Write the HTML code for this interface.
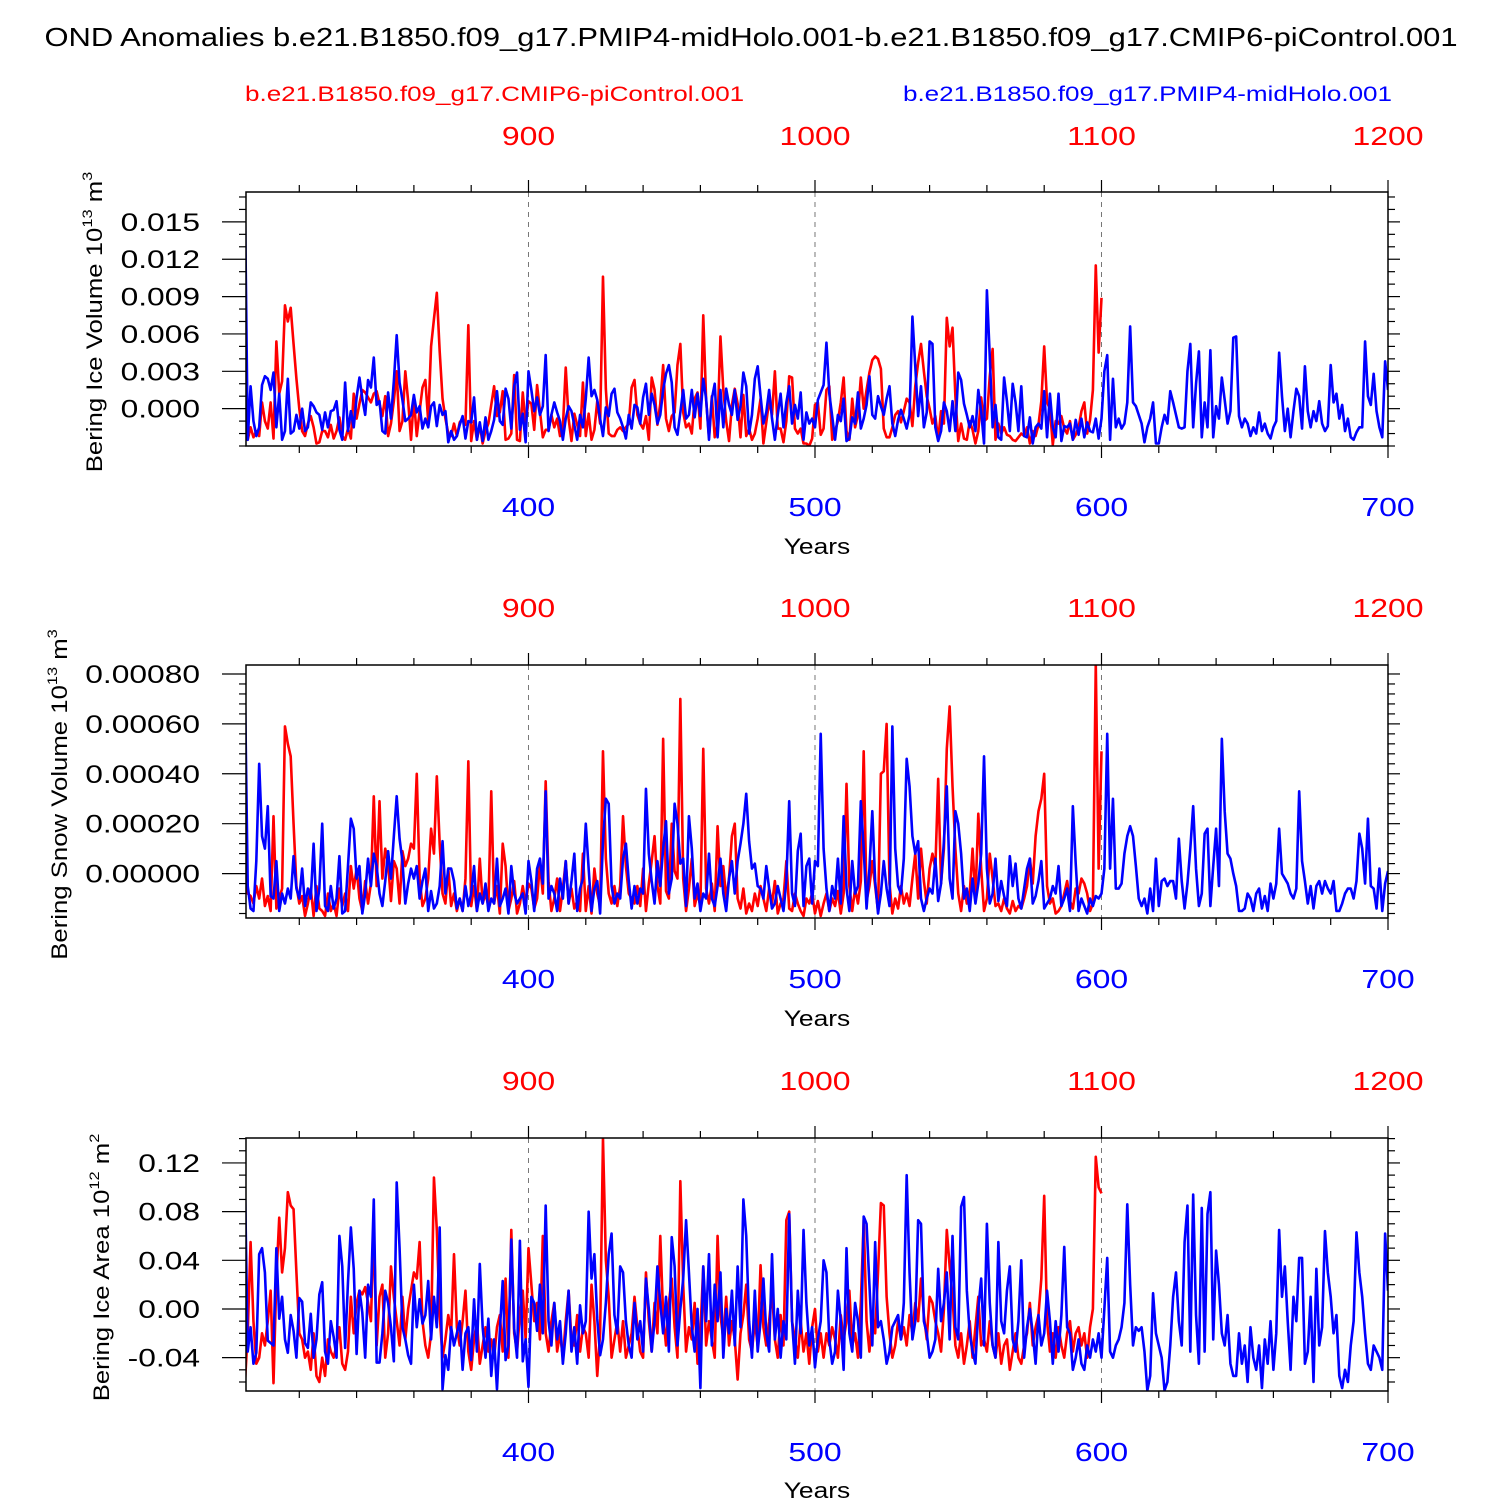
<!DOCTYPE html>
<html><head><meta charset="utf-8">
<style>
html,body{margin:0;padding:0;background:#fff;}
svg{display:block;font-family:"Liberation Sans",Arial,sans-serif;}
</style></head>
<body>
<svg id="chart" width="1500" height="1500" viewBox="0 0 1500 1500" xmlns="http://www.w3.org/2000/svg">
<rect x="0" y="0" width="1500" height="1500" fill="#fff"/>
<text transform="translate(751 46) scale(1.19 1)" font-size="26" text-anchor="middle">OND Anomalies b.e21.B1850.f09_g17.PMIP4-midHolo.001-b.e21.B1850.f09_g17.CMIP6-piControl.001</text>
<text transform="translate(245 101) scale(1.24 1)" font-size="21" fill="#ff0000">b.e21.B1850.f09_g17.CMIP6-piControl.001</text>
<text transform="translate(1392 101) scale(1.24 1)" font-size="21" fill="#0000ff" text-anchor="end">b.e21.B1850.f09_g17.PMIP4-midHolo.001</text>
</svg>
<script>
// ---- Data (blue: years 301-700, red: years 801-1100) ----
// Panel 1: ice volume, units of 1e-3 (10^13 m^3)
const iceVolBlue = [17.4,-2.5,1.8,-1,-2.2,-1.5,1.9,2.6,2.4,1.5,2.9,-1.5,1.2,-2.5,-1.8,2.4,-2,-1.8,-0.5,-1.6,
0,-1.8,-1.5,0.5,0.2,-0.3,-0.5,-1.7,-0.3,-1.5,-0.2,-0.1,0.6,-1.7,-2.5,2.1,-1.8,-0.2,-1.5,0.9,
2.5,0.8,-0.5,2.3,1.7,4.1,0.3,0.6,-1.8,-2,1.3,-0.8,2.2,5.9,2.1,0.7,-1,-0.8,-0.5,1.1,
-0.3,0.2,-1.6,-0.8,-1.5,0.2,0.5,-1.4,0.3,-0.5,-0.2,-2.7,-1.8,-2.5,-2.2,-1.3,-0.6,-2.4,-1,-1.1,
0.9,-2.5,-1.1,-2.6,-0.7,-2.5,-1.8,-0.9,1.4,-1,-1.3,1.6,0.8,-1.6,1.8,2.9,-1.7,-0.4,-2.7,3.0,
1.5,-0.2,0.9,-0.5,0.2,4.3,-1.8,-0.5,0.5,-0.3,-1,-2.5,-0.8,0.2,-0.2,-1.3,-2.5,-0.5,-1.5,0.8,
4.1,1.0,1.5,0.7,-0.8,-2.2,0.1,-0.6,1.2,1.6,-0.3,-0.8,-1.5,-2.4,-0.5,-1.6,0.3,0.1,-1.2,0.9,
2.0,-0.5,1.2,0.3,-1.2,-0.5,1.5,2.8,3.5,2.1,-1.5,-2.1,-0.3,1.5,-0.8,-0.5,1.5,-0.7,1.2,-0.6,
2.4,0.8,-2.5,0.8,2.0,-2.3,1.5,-1.5,1.6,0.3,-0.5,1.5,-0.9,0.2,2.9,1.8,-2,-0.5,2.4,3.4,
1.0,-1.2,-0.3,1.5,-0.8,-2.5,-0.5,1.2,-1.5,0.5,1.8,-1.2,0.3,-0.8,1.3,-2.5,-0.3,-1.2,-0.8,-1.5,
0.7,1.3,1.9,5.3,1.2,-0.6,-2.5,-0.5,-1,0.8,-2.6,-2.4,-0.7,-1.2,1.3,-1.6,-0.8,0.3,2.6,-0.5,
-0.8,1.0,0.2,-0.5,0.8,1.8,-1.2,-2.2,-0.9,-0.1,-0.8,-1.6,-0.5,7.4,3.4,-0.6,1.8,-1.5,-0.3,5.4,
5.2,-1.5,-2.6,-1.8,0.5,-0.2,-1.8,0.6,-1.8,2.9,2.3,0.4,-0.5,-1.5,-0.6,-1.8,1.5,-0.2,-2.8,9.5,
4.2,-1.5,0.3,-2.3,-2.5,2.5,0.6,-1.8,2.0,0.5,-1.8,1.8,-2.2,-2.3,-0.7,-2.8,-1.5,-1.2,-1.6,1.4,
-2.3,1.2,-1.5,-2.3,1.2,-2.6,-1.4,-1.5,-1.2,-2.5,-0.9,-2.1,-0.8,-2.3,-1.1,-1.8,-1.9,-0.8,-2.4,-0.8,
3.0,4.3,-2.5,2.4,-1.5,-0.8,-1.6,-1.2,0.5,6.6,0.5,0.2,-0.5,-1.2,-2.7,-1.5,-0.8,0.5,-2.8,-2.8,
-1.5,-0.5,-1.2,1.4,0.5,-0.5,-1.5,-1.6,-1.5,3.0,5.2,-1.5,2.0,4.6,-2.3,0.5,-1.5,4.7,-2.3,0.2,
-0.8,2.5,0.7,-1.2,-0.2,5.7,5.8,-0.6,-1.5,-0.8,-1.2,-2.2,-1.5,-2.0,-0.3,-1.8,-1.2,-2.0,-2.4,-1.5,
-1.0,4.5,1.0,-1.8,0.0,-2.3,-0.2,1.6,1.0,-1.6,3.4,-0.2,-1.5,-0.2,-1.0,0.6,-1.2,-1.8,-1.4,3.5,
0.5,1.2,-0.8,0.3,-1.8,-0.8,-2.3,-2.5,-1.9,-1.5,-1.5,5.4,1.0,0.3,2.8,-0.2,-1.5,-2.3,3.8,1.5];
const iceVolRed = [1.8,-2.5,-1.5,-2.3,-1.8,-2.2,0.5,-1,-1.6,0.5,-2.4,5.4,1.2,2.2,8.3,7.0,8.1,5.2,2.4,0,
-1.8,-2.2,-1.2,-0.6,-1.5,-2.8,-2.7,-1.8,-1.8,-2.3,-1.3,-2.4,-1.8,-0.7,-2.2,-2.5,-1.6,-2.4,1.2,-0.8,
0.4,1.5,1.3,0.9,0.5,1.2,1.4,0.4,-0.6,1.0,-2.2,-1.2,0.6,3.0,-1.8,-1.0,3.0,0.6,-2.5,0.8,
-2.2,-0.2,1.7,2.3,-1.0,5.0,7.2,9.3,4.6,0.8,-0.8,-2,-2.2,-1.2,-2.2,-1.1,-0.8,-1.3,6.7,-2.6,
-1.0,-2.5,-1.3,-2.8,-1.8,-1.2,0.3,1.8,-0.6,-0.3,1.4,-2.5,-2.4,-2.0,2.7,-2.5,-2.6,1.3,-1.2,0.6,
0.4,-1.7,1.9,-0.2,-2.3,-1.7,-1.7,-0.5,-1.5,-0.8,-2.2,-1.5,3.3,-0.8,-2.6,-0.4,-1.3,-2.2,2.1,-2.2,
-0.4,-2.5,-1.7,0.6,-1.2,10.6,1.6,-2.0,-2.2,-2.2,-1.7,-1.5,-1.8,-1.5,-1.2,1.7,2.3,-0.5,-1.2,-1.6,
-0.6,-2.5,2.5,1.5,-1.3,0.4,3.5,-0.8,-1.8,-0.6,-0.3,3.5,5.2,-0.3,-1.5,-1.2,-2.0,0.8,1.3,-1.6,
7.5,0.7,-2.3,1.0,-2.3,-1.2,5.8,1.5,-1.0,-2.6,0.3,1.6,0.4,-2.3,1.1,-2.2,-1.6,-2.5,-2.0,-0.8,
0.8,-2.8,-1.1,0.6,-0.5,3.0,-1.6,-1.6,-2.7,-1.0,2.6,2.5,-1.6,-2.0,-1.6,-2.8,-2.8,-3.0,-2.4,0.3,
0.5,-2.1,-1.6,1.5,1.8,-2.5,-1.8,-1.0,0.5,2.5,-1.8,-2.5,0.8,-1.5,-0.5,2.5,0,1.5,2.9,3.9,
4.2,4.0,3.2,-1.6,-2.3,-2.3,-1.5,-0.5,-0.2,-1.1,-0.2,0.8,0.5,-1.4,1.8,3.7,5.2,3.0,1.0,0.0,
-1.2,-0.6,-2.5,-0.2,-1.2,7.3,5.0,6.5,1.0,-2.6,-1.2,-2.4,-2.5,-1.0,-1.7,-2.8,-1.8,0.9,-1.0,-0.8,
2.6,4.8,-2.5,-1.2,-2.0,-1.5,-2.1,-2.2,-2.5,-2.6,-2.3,-2.0,-2.2,-1.5,-2.8,-1.8,-2.2,-1.3,0.6,5.0,
0.5,0,-2.9,-1.0,-1.2,-0.6,-1.6,-2.0,-1.0,-2.5,-2.1,-1.5,-0.2,0.5,-2.0,-0.9,1.5,11.5,4.5,8.9];
// Panel 2: snow volume, units of 1e-4 (10^13 m^3)
const snowVolBlue = [7.8,-0.5,-1.4,-1.5,0.5,4.4,1.5,1.0,2.7,-0.9,-1.0,0.5,-1.5,-0.8,-1.2,-0.6,-1.0,0.7,-0.6,-1.0,
0.2,-1.3,-0.6,-1.0,1.2,-1.5,-0.6,2.0,-1.3,-1.5,-0.5,-1.4,-1.0,0.7,-1.6,-1.5,0.3,2.2,1.8,-0.2,
0.3,-1.6,-0.8,0.6,-0.5,0.8,0.3,-0.8,-1.3,-0.3,0.9,-0.2,1.5,3.1,1.4,0.5,-1.2,-0.4,0.2,-0.2,
0.3,-1.0,-0.3,0.2,-1.5,-0.7,-1.4,-1.2,-0.5,1.3,-0.8,0.2,0.2,-0.3,-1.4,-1.0,-1.5,-0.5,-1.3,-0.8,
0.3,-1.5,-0.8,-1.2,-0.4,-1.5,-1.0,-1.2,0.6,-1.3,-1.0,-0.6,-1.6,0.3,-0.8,-1.2,-1.0,-0.8,-1.6,0.5,
-0.3,-1.5,0.2,0.6,-0.4,3.3,-1.0,-0.5,-0.8,-1.5,-0.2,-1.0,0.5,-1.2,-0.3,0.8,-1.5,-0.6,-0.2,2.0,
0.2,-1.5,-0.6,-0.3,-1.6,1.3,3.0,2.8,-0.5,-1.2,-0.8,-1.0,0.6,1.2,-0.3,-1.4,-0.5,-1.2,-0.6,-0.8,
3.4,0.8,-0.3,-1.2,0.5,-0.5,1.0,2.1,-0.8,-0.2,2.8,2.0,0.4,0.6,-1.3,2.3,1.0,-1.0,-0.4,-1.5,
-0.8,-1.0,0.8,-1.0,-1.3,-0.5,0.6,-0.8,-1.5,-0.2,0.5,-0.8,0.5,1.2,2.0,3.2,1.3,0.2,0.4,-0.5,
-0.6,-1.0,0.3,-0.6,-1.4,-1.2,-0.5,-1.0,-1.5,-0.3,2.9,-0.8,-1.3,0.9,1.6,-1.3,0.3,0.6,-1.2,0.5,
0.3,5.6,1.0,-0.6,-1.5,-0.5,-1.0,0.6,-1.2,2.3,-0.6,-1.5,0.5,-0.8,-0.5,2.9,1.0,-1.4,0.2,2.5,
-0.3,-1.6,-0.8,0.5,-0.6,-1.3,5.9,1.0,-0.5,-0.8,0.6,4.6,3.5,1.5,0.8,1.3,-1.0,-1.5,-1.0,-0.6,
-0.8,0.6,-1.1,-0.4,1.3,3.5,-0.2,-1.0,2.5,2.0,0.8,-1.0,-0.6,-1.5,-0.2,-1.2,-0.4,0.8,4.7,0.2,
-1.2,-0.8,0.6,-1.1,-0.3,-0.9,-1.3,0.7,-0.5,0.4,-1.0,-1.4,-0.6,0.2,0.6,-1.2,-0.9,-0.3,0.5,-1.4,
-1.2,-1.0,-0.5,-0.8,0.3,-1.3,-1.0,-0.6,-1.5,2.7,0.4,-1.5,-1.0,-1.3,-1.6,-1.0,-1.3,-0.9,-1.0,-0.8,
0.2,5.6,0.2,3.0,-0.6,-0.6,-0.4,0.8,1.5,1.9,1.5,0.3,-1.0,-1.3,-1.0,-1.6,-0.6,-1.5,0.6,-1.3,
-0.3,-0.2,-0.5,-0.3,-0.3,-1.0,1.4,-0.3,-1.4,-0.4,1.0,2.7,0.2,-1.3,-0.8,1.6,1.8,-1.3,0.3,1.8,
-0.5,5.4,2.5,0.8,0.6,0.0,-0.5,-1.5,-1.5,-1.4,-0.8,-1.0,-1.5,-0.8,-0.6,-1.4,-0.9,-1.5,-0.4,-1.0,
-0.4,1.8,0.0,-0.2,-0.4,-0.8,-1.0,-0.6,3.3,0.5,-0.3,-1.2,-0.5,-1.4,-0.5,-0.3,-0.8,-0.3,-0.6,-0.8,
-0.3,-1.5,-1.5,-1.2,-0.8,-0.6,-0.6,-1.0,-0.3,1.6,1.0,-0.4,2.2,-0.5,-0.6,-1.4,0.2,-1.5,-0.4,0.1];
const snowVolRed = [1.8,-0.8,-0.9,-1.2,-0.5,-1.0,-0.2,-1.3,-0.9,-1.5,2.3,-1.4,-1.0,-0.6,5.9,5.2,4.7,2.0,-0.5,-1.2,
-0.9,-1.7,-1.2,-0.6,-1.7,-0.5,-1.4,-1.5,-1.7,-0.8,-1.5,-1.2,-1.7,-0.6,-1.3,-0.8,-1.5,0.3,-0.6,0.2,
-1.0,-1.5,-0.3,-1.2,-0.4,3.1,-0.5,2.9,-0.2,1.0,0.4,-1.1,0.5,0.2,-1.2,0.9,0.3,0.6,1.2,1.0,
4.0,-0.2,-1.3,-1.0,-0.2,1.8,0.8,3.9,1.2,-0.8,-1.2,0.2,-1.3,-0.8,-1.5,-1.0,-1.5,-0.2,4.5,-1.3,
-0.5,-1.5,0.6,-1.2,-0.8,-1.3,3.3,-1.2,-0.5,-1.6,1.2,0.3,-1.5,-1.0,-0.3,-1.6,-1.2,-0.5,-1.2,-0.4,
-0.6,-1.4,-1.0,0.4,-0.8,3.7,-0.3,-1.5,-1.0,-0.2,-1.5,-0.6,0.5,-1.2,-0.6,-1.4,-1.1,-1.5,0.8,-1.5,
-0.5,-1.6,0.2,-0.8,-1.3,4.9,0.6,-0.8,-1.2,-0.5,-1.3,-0.5,2.3,0.3,-0.8,-1.0,-1.2,-0.5,-1.3,0.2,
-1.5,-0.4,0.5,1.5,-0.5,-1.2,5.4,-0.7,-1.0,2.0,0.1,-0.2,7.0,-0.2,-1.5,-0.6,0.6,-1.3,-0.8,-1.3,
5.0,-0.6,-1.2,-0.4,-1.5,1.9,-0.5,0.3,-1.0,-0.2,1.5,2.0,-1.0,-1.4,-0.6,-1.6,-1.2,-1.5,-0.8,-1.3,
-0.5,-1.0,-1.5,-0.6,-1.2,-0.3,-1.6,-1.2,-1.0,0.5,-1.4,-1.5,-0.8,-1.2,-1.5,-1.7,-1.0,-1.2,-0.8,-1.6,
-1.1,-1.7,-1.2,-0.8,-1.5,-1.0,-1.3,-0.7,-1.6,-0.8,3.6,-0.5,-1.5,-0.6,-1.2,-0.3,4.9,-1.1,-0.5,0.5,
-0.5,-1.5,4.0,4.1,6.0,-0.4,-1.6,-1.0,-1.4,-0.5,-1.2,-0.8,-1.3,-0.2,0.8,-1.0,1.0,-0.3,-1.2,0.2,
0.8,0.2,3.8,-0.4,1.0,5.0,6.7,3.5,1.0,-0.8,-1.5,-0.5,-1.2,-0.8,1.0,-1.0,2.4,0.2,-1.5,-1.0,
0.8,-0.2,-1.3,-1.2,-1.5,-1.0,-1.4,-1.6,-1.1,-1.5,-1.3,-1.4,-1.0,-0.5,0.6,-0.4,1.5,2.5,3.0,4.0,
-0.5,-1.2,-1.0,-1.6,-1.5,-1.3,-0.8,-0.3,-1.1,-1.4,-0.6,-0.8,-0.2,-0.4,-0.8,-1.5,-1.2,8.4,0.2,4.9];
// Panel 3: ice area, units of 1e-2 (10^12 m^2)
const iceAreaBlue = [11.0,-3.5,-1.5,-4.5,-3.6,4.5,5.0,3.0,-2.6,-2.8,-3.0,5.0,-0.8,1.0,-2.5,-3.6,-0.5,-1.8,-4.0,0.9,
0.6,-2.8,-3.2,-0.4,-4.0,-2.5,1.2,2.2,-3.5,-4.5,-1.0,-2.3,-4.0,6.0,3.5,-3.2,2.2,6.7,3.3,-3.7,
1.5,-0.3,-4.0,2.0,1.0,9.0,-4.4,-4.4,-2.0,1.5,0.5,-1.5,-4.3,10.4,5.0,-1.5,-2.5,-3.8,-4.5,2.0,
-1.5,0.8,-1.2,-0.5,2.3,-2.5,1.0,-1.5,6.7,-6.6,-3.8,-5.0,-1.5,-3.0,-2.0,-1.0,-5.0,-2.0,-1.5,-4.2,
0.8,-3.5,3.7,-1.5,-4.0,-0.8,-5.5,-2.5,-6.6,-1.8,2.3,-4.2,-3.0,5.7,-1.6,-4.0,5.6,-4.3,-2.5,-6.4,
1.0,0.5,-1.8,2.0,-2.0,8.5,-1.0,-3.0,0.5,-2.5,-1.0,-4.5,-2.0,1.5,-3.5,-1.5,-4.5,0.3,-2.0,-1.0,
8.0,2.5,4.5,-0.8,-3.8,-2.5,0.5,4.5,6.2,-0.5,-2.0,3.5,3.0,-1.0,-3.0,-4.0,0.5,-2.5,-1.0,-3.5,
2.5,0.0,-3.5,-1.0,3.5,0.5,-2.0,1.0,-3.5,5.9,3.5,-3.0,0.0,2.5,7.3,3.0,-1.5,-3.5,0.0,-6.5,
3.5,-1.0,4.5,-3.0,2.0,-1.0,3.0,-4.0,0.0,-2.0,1.5,-3.0,3.5,-1.5,9.0,6.0,-1.0,-4.0,1.5,-3.5,
-1.0,2.5,-2.0,-3.5,4.5,-2.5,0.0,-4.0,-1.0,-2.5,7.8,-1.0,-4.5,1.5,-2.0,6.5,0.5,-3.0,-1.5,-4.8,
-2.5,-1.0,4.0,3.0,-2.5,-4.5,-3.5,1.5,-1.0,-5.0,5.0,-2.0,-3.5,0.5,-1.0,-4.0,7.6,7.0,2.0,-3.0,
5.5,-1.5,-1.0,-2.5,-4.5,-3.5,-1.5,-1.0,-0.5,-2.5,0.5,11.0,3.0,-2.5,-1.0,7.3,7.0,-1.0,-2.0,-4.0,
-3.5,-2.5,3.3,-1.0,0.5,3.0,-2.5,6.0,-1.5,-2.5,8.4,9.2,1.5,-2.0,-3.5,-4.5,0.0,2.5,-3.0,7.0,
0.5,-3.0,-4.0,5.5,-1.0,-2.0,1.5,3.5,-2.5,-3.5,-1.0,4.0,-4.0,-1.5,0.0,-2.0,-4.5,-0.5,-3.0,-2.0,
1.5,-1.0,-4.5,-1.0,-3.5,-0.5,5.1,-1.5,-2.0,-5.0,-4.0,-2.5,-4.5,-5.0,-3.0,-4.0,-2.5,-3.5,-2.0,-4.0,
0.0,4.2,-3.5,-4.0,-3.0,-2.5,-1.5,0.5,8.6,2.0,-3.0,-1.5,-1.8,-1.5,-3.5,-6.7,-5.5,1.3,-2.0,-3.0,
-4.0,-6.7,-6.0,-3.0,1.0,3.0,-1.0,-3.0,5.5,8.5,-3.5,9.4,-0.5,-4.5,8.3,-3.5,7.8,9.6,-2.5,4.8,
2.0,-2.0,-3.0,-0.5,-4.5,-5.5,-5.5,-2.0,-4.5,-3.0,-6.0,-1.5,-4.0,-5.0,-3.0,-6.5,-2.5,-4.5,-1.0,-5.0,
-2.0,6.5,1.0,3.5,-1.0,-5.0,1.0,-1.0,4.2,4.2,-4.5,-3.5,1.0,-6.0,3.3,-3.0,-1.5,6.4,3.0,1.0,
-2.0,-0.5,-5.5,-6.5,-5.0,-6.0,-3.0,-1.0,6.3,3.0,1.0,-2.0,-4.5,-5.0,-3.0,-3.5,-4.0,-5.0,6.2,1.5];
const iceAreaRed = [-6.2,-2.0,5.5,-1.0,-4.5,-4.0,-2.0,-3.0,-1.0,1.5,-6.1,2.5,7.5,3.0,5.0,9.6,8.5,8.2,3.0,-2.0,
-2.5,-4.0,-3.5,-5.0,-2.0,-5.5,-6.0,-4.0,-5.5,-2.5,-3.5,-4.0,-3.0,-1.5,-4.5,-5.0,-3.5,1.0,-2.0,0.5,
1.5,1.2,1.8,0.5,-1.0,6.8,-3.0,1.0,2.0,-4.0,-2.0,3.5,1.0,-1.0,-3.0,1.0,-2.5,0.0,1.5,3.0,
2.5,5.5,-1.0,-3.0,-4.0,-2.0,10.8,6.5,-0.5,-4.0,-2.5,-0.5,-2.0,4.5,-1.5,-3.0,-1.0,1.5,-3.5,-5.0,
-2.5,-1.0,-4.5,-3.0,-1.5,-3.5,-2.5,-4.0,-1.5,-0.5,-3.5,2.5,-4.0,6.5,-2.0,-3.5,-0.5,1.5,-2.5,5.0,
2.0,-1.0,0.5,-2.5,6.0,-2.0,-3.5,-1.0,0.5,-3.5,-2.0,-4.0,-1.0,1.5,-2.5,-3.0,-0.5,-3.5,-1.5,-2.0,
-4.0,2.0,-1.0,-5.5,-2.0,14.0,4.0,1.0,-4.0,-2.5,-1.0,-3.5,-1.0,-4.0,-3.0,-2.0,1.0,-1.5,-3.5,-4.0,
3.0,-1.0,-3.5,0.5,-2.0,6.0,-0.5,-3.0,0.5,2.5,-1.5,-4.0,10.5,2.0,-3.5,-1.5,-2.5,0.5,-4.5,-2.0,
3.5,-3.0,-1.0,-2.5,-4.0,6.0,-0.5,-2.5,1.0,-3.0,-1.0,-2.5,-5.8,-2.0,-0.5,2.0,-2.5,-3.5,-1.0,-3.0,
3.6,-1.5,-3.0,-1.0,1.5,-2.5,-4.0,-0.5,-3.0,7.3,8.0,-1.0,-2.5,-4.0,-1.0,-3.5,-2.0,-4.5,-1.5,0.0,
-3.5,-2.0,-4.0,-2.0,-3.0,-1.5,-2.5,-4.0,-0.5,-2.5,-1.0,1.5,-3.0,-2.0,-4.0,0.5,7.3,-1.0,-3.5,-0.5,
-2.0,3.0,8.7,8.5,1.0,-2.0,-4.0,-3.0,-1.0,-2.5,-1.5,-3.0,-0.5,-2.0,0.5,-1.0,2.5,-0.5,-2.5,1.0,
0.5,-1.0,-2.0,-3.5,0.0,6.5,3.5,1.0,-3.0,-4.0,-2.0,-4.5,-3.0,-1.0,-4.0,-1.5,1.0,-3.0,-2.5,-3.5,
-1.0,-3.0,-4.0,-2.0,-4.5,-3.0,-2.5,-5.0,-3.5,-2.0,-4.0,-4.5,-3.0,-2.0,0.5,-3.0,-1.5,-0.5,2.5,9.3,
-1.0,-3.5,-2.0,-4.0,-1.5,-3.0,-4.0,-2.0,-1.0,-3.5,-2.0,-1.5,-3.0,-2.0,-4.0,-1.5,0.0,12.5,10.0,9.5];
const blueStartYear = 301;
const redStartYear = 801;
const bottomTickYears = [400, 500, 600, 700];
const topTickYears = [900, 1000, 1100, 1200];
const iceVolTicks = [0, 3, 6, 9, 12, 15];
const iceVolTickLabels = ["0.000","0.003","0.006","0.009","0.012","0.015"];
const snowVolTicks = [0, 2, 4, 6, 8];
const snowVolTickLabels = ["0.00000","0.00020","0.00040","0.00060","0.00080"];
const iceAreaTicks = [-4, 0, 4, 8, 12];
const iceAreaTickLabels = ["-0.04","0.00","0.04","0.08","0.12"];

const NS = "http://www.w3.org/2000/svg";
const svg = document.getElementById('chart');
function mk(tag, attrs, parent) {
  const e = document.createElementNS(NS, tag);
  for (const k in attrs) e.setAttribute(k, attrs[k]);
  (parent || svg).appendChild(e);
  return e;
}
function stxt(parent, x, y, sx, attrs) {
  attrs.transform = 'translate(' + x + ' ' + y + ') scale(' + sx + ' 1)';
  return mk('text', attrs, parent);
}
const X0 = 246, X1 = 1388;
const yrMin = 301.4, yrMax = 700;
function xBlue(yr) { return X0 + (yr - yrMin) / (yrMax - yrMin) * (X1 - X0); }
function xRed(yr) { return xBlue(yr - 500); }

const panels = [
  {key:'ice-volume', top:192, bot:446, vmin:-3.0, vmax:17.4, ticks:iceVolTicks, labels:iceVolTickLabels, minorStep:1,
   blue:iceVolBlue, red:iceVolRed, titleX:94, title:'Bering Ice Volume 10', sup:'13', unit:' m', usup:'3', topLblY:145, botLblY:516, yearsY:554},
  {key:'snow-volume', top:665, bot:918, vmin:-1.78, vmax:8.36, ticks:snowVolTicks, labels:snowVolTickLabels, minorStep:0.4,
   blue:snowVolBlue, red:snowVolRed, titleX:59, title:'Bering Snow Volume 10', sup:'13', unit:' m', usup:'3', topLblY:617, botLblY:988, yearsY:1026},
  {key:'ice-area', top:1138, bot:1391, vmin:-6.74, vmax:14.05, ticks:iceAreaTicks, labels:iceAreaTickLabels, minorStep:1,
   blue:iceAreaBlue, red:iceAreaRed, titleX:101, title:'Bering Ice Area 10', sup:'12', unit:' m', usup:'2', topLblY:1090, botLblY:1461, yearsY:1498}
];

panels.forEach((p, pi) => {
  const g = mk('g', {});
  
  
  const yS = v => p.bot - (v - p.vmin) / (p.vmax - p.vmin) * (p.bot - p.top);
  const cid = 'clip' + pi;
  const cp = mk('clipPath', {id: cid}, g);
  mk('rect', {x: X0, y: p.top, width: X1 - X0, height: p.bot - p.top}, cp);
  [400, 500, 600].forEach(yr => {
    const l = mk('line', {x1: xBlue(yr), x2: xBlue(yr), y1: p.top, y2: p.bot, stroke: '#777', 'stroke-width': 1, 'stroke-dasharray': '5,5'}, g);
    
    
  });
  const series = [[p.red, redStartYear, xRed, '#ff0000', 'red'], [p.blue, blueStartYear, xBlue, '#0000ff', 'blue']];
  series.forEach(([vals, start, xf, col, nm]) => {
    const d = vals.map((v, i) => (i ? 'L' : 'M') + xf(start + i).toFixed(2) + ' ' + yS(v).toFixed(2)).join(' ');
    const path = mk('path', {d: d, fill: 'none', stroke: col, 'stroke-width': 2.6, 'stroke-linejoin': 'round', 'clip-path': 'url(#' + cid + ')'}, g);
    
    
  });
  const fr = mk('rect', {x: X0, y: p.top, width: X1 - X0, height: p.bot - p.top, fill: 'none', stroke: '#000', 'stroke-width': 1.5}, g);
  
  
  for (let yr = 320; yr <= 700; yr += 20) {
    const x = xBlue(yr);
    const major = yr % 100 === 0;
    const len = major ? 12 : 7;
    mk('line', {x1: x, x2: x, y1: p.bot, y2: p.bot + len, stroke: '#000', 'stroke-width': 1.2}, g);
    mk('line', {x1: x, x2: x, y1: p.top, y2: p.top - len, stroke: '#000', 'stroke-width': 1.2}, g);
  }
  bottomTickYears.forEach(yr => {
    const t = stxt(g, xBlue(yr), p.botLblY, 1.23, {'font-size': 26, fill: '#0000ff', 'text-anchor': 'middle'});
    t.textContent = yr;
    
    
  });
  topTickYears.forEach(yr => {
    const t = stxt(g, xRed(yr), p.topLblY, 1.23, {'font-size': 26, fill: '#ff0000', 'text-anchor': 'middle'});
    t.textContent = yr;
    
    
  });
  const yt = stxt(g, 817, p.yearsY, 1.2, {'font-size': 22, 'text-anchor': 'middle'});
  yt.textContent = 'Years';
  
  
  const first = Math.ceil(p.vmin / p.minorStep - 1e-9);
  for (let k = first; k * p.minorStep <= p.vmax + 1e-9; k++) {
    const v = k * p.minorStep;
    const y = yS(v);
    const major = p.ticks.some(t => Math.abs(t - v) < 1e-6);
    const len = major ? 12 : 7;
    mk('line', {x1: X0, x2: X0 - len - (major ? 12 : 0), y1: y, y2: y, stroke: '#000', 'stroke-width': 1.2}, g);
    mk('line', {x1: X1, x2: X1 + len, y1: y, y2: y, stroke: '#000', 'stroke-width': 1.2}, g);
  }
  p.ticks.forEach((v, i) => {
    const t = stxt(g, 200, yS(v) + 9, 1.27, {'font-size': 25, 'text-anchor': 'end'});
    t.textContent = p.labels[i];
    
    
  });
  const cy = (p.top + p.bot) / 2 + 3;
  const tt = mk('text', {x: 0, y: 0, 'font-size': 22, 'text-anchor': 'middle', transform: 'translate(' + p.titleX + ' ' + cy + ') rotate(-90) scale(1.17 1)', dy: 8}, g);
  
  
  const s1 = mk('tspan', {}, tt); s1.textContent = p.title;
  const s2 = mk('tspan', {dy: -10, 'font-size': 14}, tt); s2.textContent = p.sup;
  const s3 = mk('tspan', {dy: 10}, tt); s3.textContent = p.unit;
  const s4 = mk('tspan', {dy: -10, 'font-size': 14}, tt); s4.textContent = p.usup;
});
</script>
</body></html>
